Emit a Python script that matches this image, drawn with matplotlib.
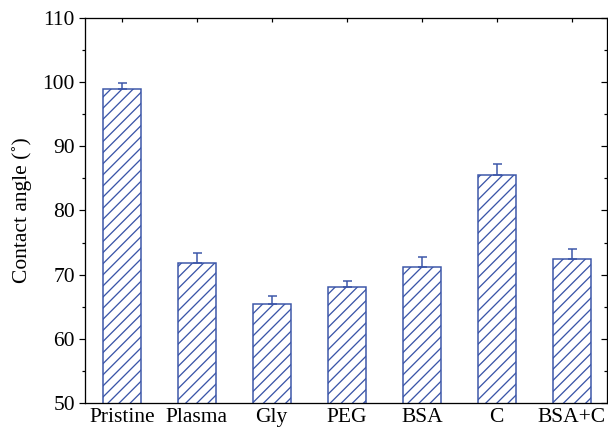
import matplotlib
matplotlib.use("Agg")
import matplotlib.pyplot as plt
from matplotlib.ticker import MultipleLocator

# Water contact angle of each surface treatment (mean and upper error)
categories = ["Pristine", "Plasma", "Gly", "PEG", "BSA", "C", "BSA+C"]
contact_angle = [98.9, 71.8, 65.4, 68.1, 71.2, 85.5, 72.4]
angle_error = [0.9, 1.5, 1.2, 0.9, 1.6, 1.8, 1.6]

DPI = 100
W_PX, H_PX = 608, 429


def pt(px):
    """Convert a size in output pixels to points at the figure dpi."""
    return px * 72.0 / DPI


blue = "#3a55a8"
plt.rcParams["font.family"] = ["Liberation Serif", "DejaVu Serif"]
plt.rcParams["hatch.color"] = blue
plt.rcParams["hatch.linewidth"] = pt(1.3)

fig = plt.figure(figsize=(W_PX / DPI, H_PX / DPI), dpi=DPI)
ax = fig.add_axes([85 / W_PX, (H_PX - 403) / H_PX,
                   (607 - 85) / W_PX, (403 - 18) / H_PX])

x = list(range(len(categories)))
ax.bar(x, contact_angle, width=0.5, bottom=0, color="white",
       edgecolor=blue, linewidth=pt(1.5), hatch="///", zorder=2)
ax.errorbar(x, contact_angle, yerr=[[0] * len(x), angle_error], fmt="none",
            ecolor=blue, elinewidth=pt(1.5), capsize=pt(4.5), capthick=pt(1.5),
            zorder=3)

ax.set_xlim(-0.49, 6.47)
ax.set_ylim(50, 110)
ax.set_xticks(x)
ax.set_xticklabels(categories)
ax.yaxis.set_major_locator(MultipleLocator(10))
ax.yaxis.set_minor_locator(MultipleLocator(5))

fs = pt(21.5)
ax.tick_params(axis="y", which="major", direction="out", length=pt(6),
               width=pt(1.2), labelsize=fs, pad=pt(4), right=True)
ax.tick_params(axis="y", which="minor", direction="out", length=pt(3.5),
               width=pt(1.2), right=True)
ax.tick_params(axis="x", which="major", direction="in", length=pt(4),
               width=pt(1.2), labelsize=fs, pad=pt(5), top=True)
# right-hand ticks point into the plot
for t in ax.yaxis.get_ticklines(minor=False)[1::2]:
    t.set_marker(0)
for t in ax.yaxis.get_ticklines(minor=True)[1::2]:
    t.set_marker(0)

for s in ax.spines.values():
    s.set_linewidth(pt(1.3))
    s.set_color("black")

ax.set_ylabel("Contact angle (\u02da)", fontsize=fs, labelpad=pt(11))

fig.savefig("out.png", dpi=DPI, facecolor="white")
